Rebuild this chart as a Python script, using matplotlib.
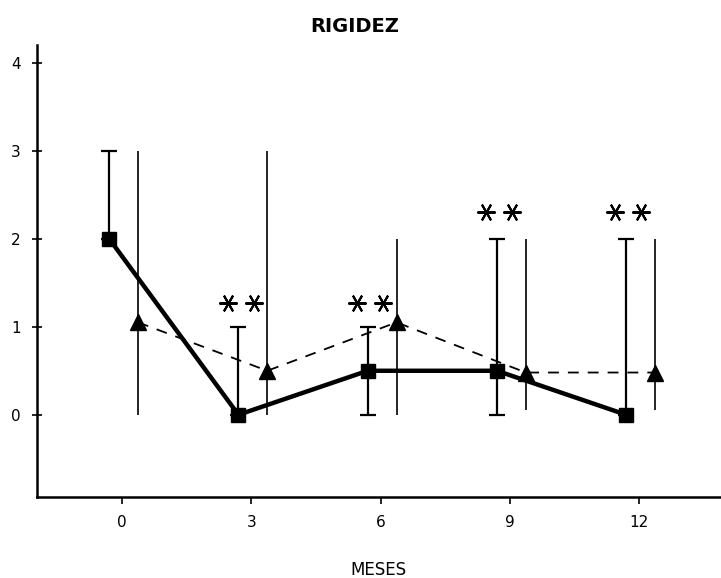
import numpy as np
import matplotlib
matplotlib.use("Agg")
from matplotlib import pyplot as plt

months = [0, 3, 6, 9, 12]
month_labels = ["0", "3", "6", "9", "12"]

# grupo 1 (cuadrados, linea continua)
sq_val = [2.0, 0.0, 0.5, 0.5, 0.0]
sq_lo = [2.0, 0.0, 0.0, 0.0, 0.0]
sq_hi = [3.0, 1.0, 1.0, 2.0, 2.0]

# grupo 2 (triangulos, linea discontinua)
tri_val = [1.05, 0.5, 1.05, 0.48, 0.48]
tri_lo = [0.0, 0.0, 0.0, 0.05, 0.05]
tri_hi = [3.0, 3.0, 2.0, 2.0, 2.0]

# asteriscos de significacion (**)
star_x = [3, 6, 9, 12]
star_y = [1.27, 1.27, 2.3, 2.3]

fig = plt.figure(figsize=(7.21, 5.78), dpi=100)
ax = fig.add_axes([0.051, 0.14, 0.949, 0.782])

xs = np.array(months) - 0.3
xt = np.array(months) + 0.37
sv = np.array(sq_val)
tv = np.array(tri_val)

ax.errorbar(xs, sv, yerr=[sv - np.array(sq_lo), np.array(sq_hi) - sv],
            fmt='none', ecolor='black', elinewidth=1.6, capsize=6, capthick=1.6)
ax.errorbar(xt, tv, yerr=[tv - np.array(tri_lo), np.array(tri_hi) - tv],
            fmt='none', ecolor='black', elinewidth=1.2, capsize=0)

ax.plot(xs, sv, color='black', lw=3.2, marker='s', ms=10, zorder=3)
ax.plot(xt, tv, color='black', lw=1.3, ls=(0, (6, 5)), marker='^', ms=11, zorder=3)

# dos asteriscos por mes
sx = np.array(star_x) - 0.25
for dx in (-0.3, 0.3):
    ax.plot(sx + dx, star_y, ls='none', marker=(6, 2, 90), ms=13, mew=1.5, color='black')

ax.set_xlim(-1.98, 13.9)
ax.set_ylim(-0.935, 4.2)
ax.set_xticks(months)
ax.set_xticklabels(month_labels, fontsize=11)
ax.set_yticks([0, 1, 2, 3, 4])
ax.set_yticklabels(["0", "1", "2", "3", "4"], fontsize=11)
ax.tick_params(axis='y', direction='inout', length=7, width=1.2, pad=8)
ax.tick_params(axis='x', direction='out', length=5, width=1.2, pad=8)

for s in ['top', 'right']:
    ax.spines[s].set_visible(False)
ax.spines['left'].set_linewidth(1.8)
ax.spines['bottom'].set_linewidth(1.8)

ax.set_xlabel("MESES", fontsize=12, labelpad=22)
fig.text(0.492, 0.955, "RIGIDEZ", ha='center', va='center', fontsize=14, fontweight='bold')

fig.savefig("out.png", dpi=100)
